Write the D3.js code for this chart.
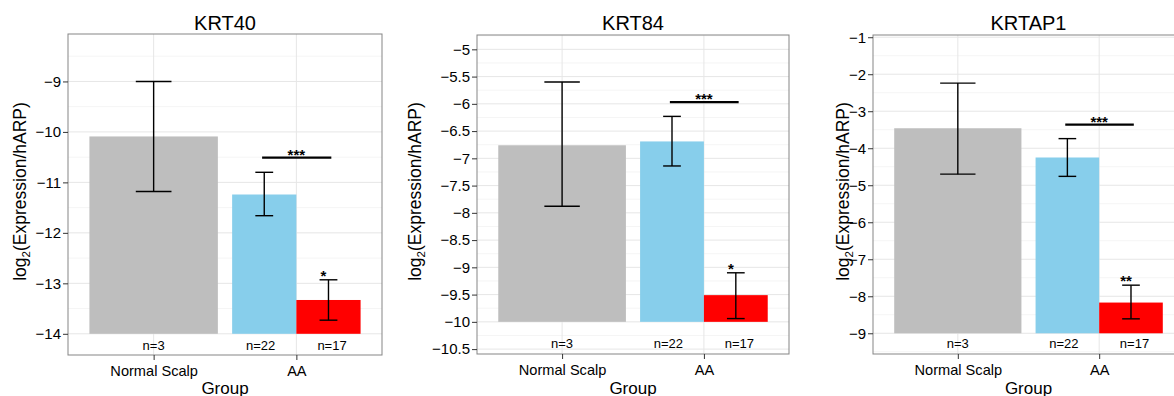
<!DOCTYPE html>
<html lang="en">
<head>
  <meta charset="UTF-8">
  <title>KRT40 / KRT84 / KRTAP1 expression</title>
  <script src="https://d3js.org/d3.v7.min.js"></script>
  <style>
    body { margin: 0; background: #fff; }
    text { font-family: "Liberation Sans", Arial, Helvetica, sans-serif; fill: #000; }
    .grid-major { stroke: #e6e6e6; stroke-width: 1; }
    .grid-minor { stroke: #f5f5f5; stroke-width: 1; }
    .frame { fill: none; stroke: #858585; stroke-width: 1; }
    .err { stroke: #000; stroke-width: 1.4; fill: none; }
    .sig { stroke: #000; stroke-width: 2.2; }
    .star { font-size: 15px; font-weight: bold; }
  </style>
</head>
<body>
  <svg width="1174" height="396"></svg>
  <script>
    // data
    const genes = ["KRT40", "KRT84", "KRTAP1"];
    const groups = ["Normal Scalp", "AA"];
    const nLabels = ["n=3", "n=22", "n=17"];

    const normalMean = [-10.09, -6.76, -3.46];
    const normalLo   = [-11.18, -7.88, -4.70];
    const normalHi   = [-9.00, -5.60, -2.24];

    const aaBlueMean = [-11.24, -6.69, -4.25];
    const aaBlueLo   = [-11.66, -7.14, -4.76];
    const aaBlueHi   = [-10.80, -6.23, -3.74];

    const aaRedMean = [-13.33, -9.51, -8.17];
    const aaRedLo   = [-13.73, -9.94, -8.61];
    const aaRedHi   = [-12.93, -9.10, -7.70];

    const barBase = [-14, -10, -9];
    const sigLine = [-10.51, -5.97, -3.36];
    const redStars = ["*", "*", "**"];
    const nLabelValue = [-14.23, -10.40, -9.27];

    const yDomains = [[-14.42, -8.06], [-10.59, -4.737], [-9.56, -0.94]];
    const yTicks = [
      [-14, -13, -12, -11, -10, -9],
      [-10.5, -10, -9.5, -9, -8.5, -8, -7.5, -7, -6.5, -6, -5.5, -5],
      [-9, -8, -7, -6, -5, -4, -3, -2, -1]
    ];

    // panel layout (pixels)
    const layout = [
      { left: 68,  right: 382,  top: 34, bottom: 355, ylabX: 26 },
      { left: 477, right: 789,  top: 35, bottom: 354, ylabX: 421 },
      { left: 873, right: 1184, top: 35, bottom: 354, ylabX: 849 }
    ];

    const colors = { normal: "#bebebe", blue: "#87ceeb", red: "#ff0000" };

    const svg = d3.select("svg");
    const fmt = d3.format("~g");

    genes.forEach((gene, i) => {
      const L = layout[i];
      const g = svg.append("g");

      const x = d3.scalePoint().domain(groups).range([L.left, L.right]).padding(0.6);
      const step = x.step();
      const y = d3.scaleLinear().domain(yDomains[i]).range([L.bottom, L.top]);

      // grid
      const ticks = yTicks[i];
      const minor = [];
      const dt = ticks[1] - ticks[0];
      for (let k = -1; k < ticks.length; k++) {
        const v = ticks[0] + (k + 0.5) * dt;
        if (v > yDomains[i][0] && v < yDomains[i][1]) minor.push(v);
      }
      g.selectAll(".grid-minor").data(minor).enter().append("line")
        .attr("class", "grid-minor")
        .attr("x1", L.left).attr("x2", L.right)
        .attr("y1", d => y(d)).attr("y2", d => y(d));
      g.selectAll(".grid-major-h").data(ticks).enter().append("line")
        .attr("class", "grid-major")
        .attr("x1", L.left).attr("x2", L.right)
        .attr("y1", d => y(d)).attr("y2", d => y(d));
      g.selectAll(".grid-major-v").data(groups).enter().append("line")
        .attr("class", "grid-major")
        .attr("x1", d => x(d)).attr("x2", d => x(d))
        .attr("y1", L.top).attr("y2", L.bottom);

      // bars: one full-width for normal, two dodged for AA
      const bars = [
        { cx: x("Normal Scalp"), w: 0.9 * step, mean: normalMean[i], lo: normalLo[i], hi: normalHi[i], col: colors.normal, cap: 0.125 * step },
        { cx: x("AA") - 0.225 * step, w: 0.45 * step, mean: aaBlueMean[i], lo: aaBlueLo[i], hi: aaBlueHi[i], col: colors.blue, cap: 0.0625 * step },
        { cx: x("AA") + 0.225 * step, w: 0.45 * step, mean: aaRedMean[i], lo: aaRedLo[i], hi: aaRedHi[i], col: colors.red, cap: 0.0625 * step }
      ];

      g.selectAll(".bar").data(bars).enter().append("rect")
        .attr("x", d => d.cx - d.w / 2)
        .attr("width", d => d.w)
        .attr("y", d => y(d.mean))
        .attr("height", d => y(barBase[i]) - y(d.mean))
        .attr("fill", d => d.col);

      // error bars
      bars.forEach(d => {
        g.append("line").attr("class", "err")
          .attr("x1", d.cx).attr("x2", d.cx).attr("y1", y(d.lo)).attr("y2", y(d.hi));
        g.append("line").attr("class", "err")
          .attr("x1", d.cx - d.cap).attr("x2", d.cx + d.cap).attr("y1", y(d.lo)).attr("y2", y(d.lo));
        g.append("line").attr("class", "err")
          .attr("x1", d.cx - d.cap).attr("x2", d.cx + d.cap).attr("y1", y(d.hi)).attr("y2", y(d.hi));
      });

      // significance
      g.append("line").attr("class", "sig")
        .attr("x1", x("AA") - 0.24 * step).attr("x2", x("AA") + 0.245 * step)
        .attr("y1", y(sigLine[i])).attr("y2", y(sigLine[i]));
      g.append("text").attr("class", "star")
        .attr("x", x("AA")).attr("y", y(sigLine[i]) + 2)
        .attr("text-anchor", "middle")
        .text("***");
      g.append("text").attr("class", "star")
        .attr("x", x("AA") + 0.19 * step).attr("y", y(aaRedHi[i]) + 1)
        .attr("text-anchor", "middle")
        .text(redStars[i]);

      // n labels
      const nx = [x("Normal Scalp"), x("AA") - 0.25 * step, x("AA") + 0.25 * step];
      g.selectAll(".nlab").data(nLabels).enter().append("text")
        .attr("x", (d, j) => nx[j])
        .attr("y", y(nLabelValue[i]))
        .attr("dy", "0.35em")
        .attr("text-anchor", "middle")
        .style("font-size", "13px")
        .text(d => d);

      // frame
      g.append("rect").attr("class", "frame")
        .attr("x", L.left).attr("y", L.top)
        .attr("width", L.right - L.left).attr("height", L.bottom - L.top);

      // axes
      const yAxis = g.append("g")
        .attr("transform", `translate(${L.left},0)`)
        .call(d3.axisLeft(y).tickValues(ticks).tickFormat(fmt).tickSize(5).tickPadding(2));
      yAxis.select(".domain").remove();
      yAxis.selectAll(".tick line").attr("stroke", "#333");
      yAxis.selectAll("text").style("font-size", "15px").attr("fill", "#000")
        .style("font-family", "'Liberation Sans', Arial, sans-serif");

      const xAxis = g.append("g")
        .attr("transform", `translate(0,${L.bottom})`)
        .call(d3.axisBottom(x).tickSize(5).tickPadding(6));
      xAxis.select(".domain").remove();
      xAxis.selectAll(".tick line").attr("stroke", "#333");
      xAxis.selectAll("text").style("font-size", "14.6px").attr("fill", "#000")
        .style("font-family", "'Liberation Sans', Arial, sans-serif");

      // titles
      const cx = (L.left + L.right) / 2;
      g.append("text").attr("x", cx).attr("y", 29.5)
        .attr("text-anchor", "middle").style("font-size", "20px").text(gene);
      g.append("text").attr("x", cx).attr("y", 393.5)
        .attr("text-anchor", "middle").style("font-size", "17px").text("Group");

      const yl = g.append("text")
        .attr("transform", `translate(${L.ylabX},${(L.top + L.bottom) / 2 - 3}) rotate(-90)`)
        .attr("text-anchor", "middle").style("font-size", "17.5px");
      yl.append("tspan").text("log");
      yl.append("tspan").attr("dy", 4).style("font-size", "11.5px").text("2");
      yl.append("tspan").attr("dy", -4).text("(Expression/hARP)");
    });
  </script>
</body>
</html>
